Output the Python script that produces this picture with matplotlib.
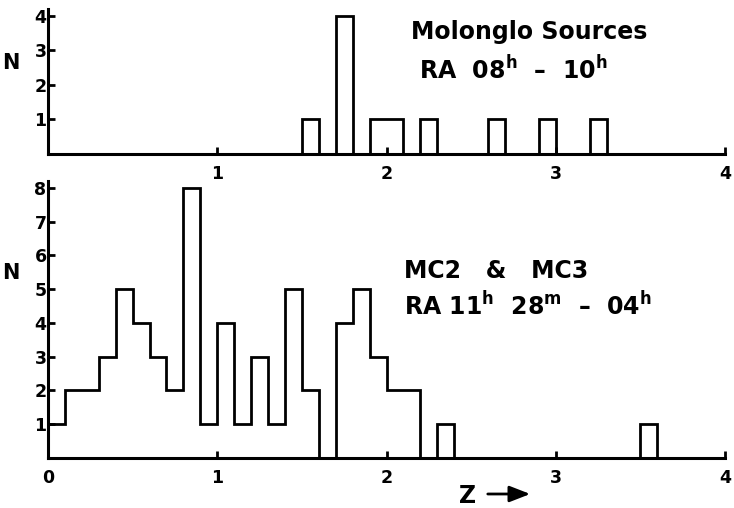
import numpy as np
import matplotlib
matplotlib.use("Agg")
import matplotlib.pyplot as plt

plt.rcParams['font.family'] = ['DejaVu Sans']
plt.rcParams['font.weight'] = 'bold'
plt.rcParams['mathtext.fontset'] = 'custom'
plt.rcParams['mathtext.rm'] = 'DejaVu Sans'
plt.rcParams['mathtext.bf'] = 'DejaVu Sans:bold'

# Bin edges (Z), width 0.1
edges = np.round(np.arange(0, 4.01, 0.1), 2)

# Top panel: Molonglo sources RA 08h-10h (counts per bin of 0.1 in Z)
top_bins = [1.5, 1.7, 1.9, 2.0, 2.2, 2.6, 2.9, 3.2]
top_counts = [1, 4, 1, 1, 1, 1, 1, 1]

# Bottom panel: MC2 & MC3 counts for bins 0.0-0.1 ... 3.9-4.0
bottom_counts = [1, 2, 2, 3, 5, 4, 3, 2, 8, 1,
                 4, 1, 3, 1, 5, 2, 0, 4, 5, 3,
                 2, 2, 0, 1, 0, 0, 0, 0, 0, 0,
                 0, 0, 0, 0, 0, 1, 0, 0, 0, 0]

top_values = np.zeros(len(edges) - 1)
for b, c in zip(top_bins, top_counts):
    top_values[int(round(b * 10))] = c

fig = plt.figure(figsize=(7.34, 5.08), dpi=100)
W, H = 734, 508

def add_axes(left, right, bottom_px, top_px):
    return fig.add_axes([left / W, 1 - bottom_px / H, (right - left) / W, (bottom_px - top_px) / H])

ax1 = add_axes(48, 725, 154, 9)
ax2 = add_axes(48, 725, 458, 181)

lw = 2.0
ax1.stairs(top_values, edges, baseline=0, color='black', linewidth=lw)
ax2.stairs(bottom_counts, edges, baseline=0, color='black', linewidth=lw)

ax1.set_ylim(0, 4.2)
ax2.set_ylim(0, 8.2)

for ax in (ax1, ax2):
    ax.set_xlim(0, 4)
    for s in ('top', 'right'):
        ax.spines[s].set_visible(False)
    for s in ('left', 'bottom'):
        ax.spines[s].set_linewidth(2.2)
    ax.tick_params(direction='in', length=5, width=2, labelsize=12.5)
    ax.tick_params(axis='y', pad=1)
    ax.tick_params(axis='x', pad=8)

ax1.set_xticks([1, 2, 3, 4])
ax1.set_xticklabels(['1', '2', '3', '4'], fontweight='bold')
ax1.set_yticks([1, 2, 3, 4])
ax1.set_yticklabels(['1', '2', '3', '4'], fontweight='bold')
ax2.set_xticks([0, 1, 2, 3, 4])
ax2.set_xticklabels(['0', '1', '2', '3', '4'], fontweight='bold')
ax2.set_yticks(range(1, 9))
ax2.set_yticklabels([str(i) for i in range(1, 9)], fontweight='bold')

fig.text(11 / W, 1 - 63 / H, 'N', fontsize=15, fontweight='bold', ha='center', va='center')
fig.text(11 / W, 1 - 273 / H, 'N', fontsize=15, fontweight='bold', ha='center', va='center')

fig.text(529 / W, 1 - 32 / H, 'Molonglo Sources', fontsize=17, fontweight='bold', ha='center', va='center')
fig.text(419 / W, 1 - 70 / H, r'RA  08$^\mathrm{h}$  –  10$^\mathrm{h}$', fontsize=17, fontweight='bold', ha='left', va='center')

fig.text(404 / W, 1 - 271 / H, 'MC2   &   MC3', fontsize=17, fontweight='bold', ha='left', va='center')
fig.text(404 / W, 1 - 306 / H, r'RA 11$^\mathrm{h}$  28$^\mathrm{m}$  –  04$^\mathrm{h}$', fontsize=17, fontweight='bold', ha='left', va='center')

fig.text(468 / W, 1 - 496 / H, 'Z', fontsize=17, fontweight='bold', ha='center', va='center')
fig.patches.append(matplotlib.patches.FancyArrowPatch(
    (485 / W, 1 - 494 / H), (533 / W, 1 - 494 / H), transform=fig.transFigure,
    arrowstyle='-|>,head_length=0.9,head_width=0.35', color='black', linewidth=2, mutation_scale=14))

fig.savefig('out.png', dpi=100)
